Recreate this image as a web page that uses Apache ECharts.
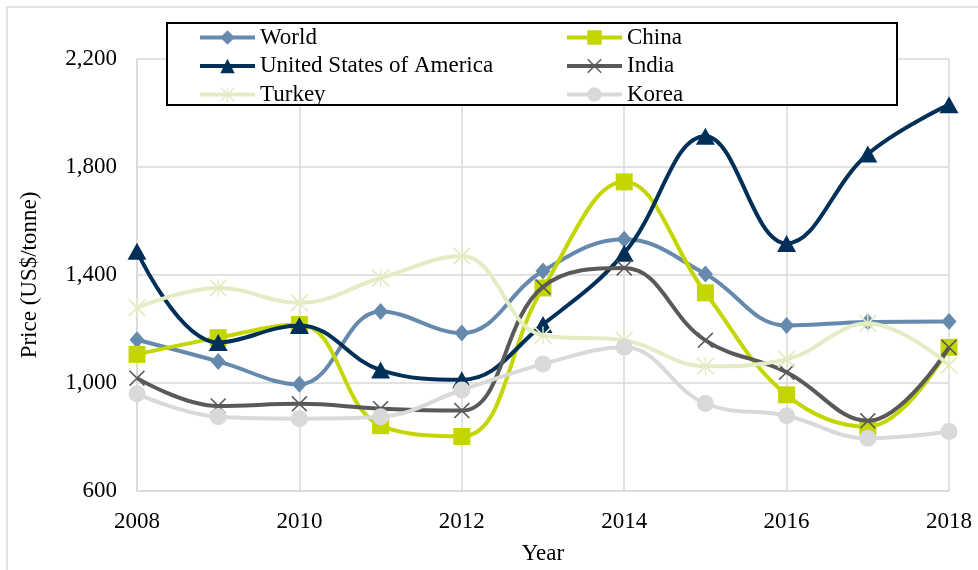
<!DOCTYPE html>
<html>
<head>
<meta charset="utf-8">
<script src="https://cdn.jsdelivr.net/npm/echarts@6/dist/echarts.min.js"></script>
<style>
  html, body { margin: 0; padding: 0; background: #fff; }
  #chart { width: 978px; height: 570px; }
</style>
</head>
<body>
<div id="chart"></div>
<script>
// Steel price by market, US$ per tonne
const years  = [2008, 2009, 2010, 2011, 2012, 2013, 2014, 2015, 2016, 2017, 2018];
const world  = [1160, 1080,  995, 1265, 1185, 1415, 1532, 1404, 1213, 1226, 1228];
const china  = [1106, 1168, 1217,  842,  802, 1352, 1745, 1334,  956,  838, 1132];
const usa    = [1488, 1150, 1213, 1048, 1012, 1217, 1481, 1914, 1517, 1848, 2031];
const india  = [1018,  915,  923,  905,  898, 1356, 1426, 1158, 1040,  860, 1132];
const turkey = [1279, 1352, 1297, 1389, 1470, 1176, 1158, 1062, 1088, 1220, 1066];
const korea  = [ 960,  875,  868,  875,  974, 1070, 1132,  924,  879,  795,  820];

const seriesNames = ['World', 'China', 'United States of America', 'India', 'Turkey', 'Korea'];
const seriesValues = [world, china, usa, india, turkey, korea];

const FONT = '"Liberation Serif", "Times New Roman", serif';

// marker glyphs for the cross and asterisk styles
const CROSS = 'path://M1.4,0 L10,8.6 L18.6,0 L20,1.4 L11.4,10 L20,18.6 L18.6,20 L10,11.4 L1.4,20 L0,18.6 L8.6,10 L0,1.4 Z';
const STAR = 'path://M1.4,0 L10,8.6 L18.6,0 L20,1.4 L11.4,10 L20,18.6 L18.6,20 L10,11.4 L1.4,20 L0,18.6 L8.6,10 L0,1.4 Z M9.2,0 L10.8,0 L10.8,20 L9.2,20 Z';

const styles = {
  'World':                    { color: '#6689AE', symbol: 'diamond',  size: [15, 17] },
  'China':                    { color: '#C4D600', symbol: 'rect',     size: 17 },
  'United States of America': { color: '#003057', symbol: 'triangle', size: [19, 17] },
  'India':                    { color: '#595959', symbol: CROSS,      size: 16 },
  'Turkey':                   { color: '#E3ECC4', symbol: STAR,       size: 18 },
  'Korea':                    { color: '#D9D9D9', symbol: 'circle',   size: 17 }
};

const series = seriesNames.map((name, i) => {
  const s = styles[name];
  return {
    name: name,
    type: 'line',
    smooth: 0.4,
    data: years.map((y, j) => [y, seriesValues[i][j]]),
    symbol: s.symbol,
    symbolSize: s.size,
    showSymbol: true,
    lineStyle: { color: s.color, width: 4 },
    itemStyle: { color: s.color },
    emphasis: { disabled: true },
    z: 2 + i
  };
});

const chart = echarts.init(document.getElementById('chart'), null, { renderer: 'canvas' });

const legendText = { fontFamily: FONT, fontSize: 23, color: '#000', lineHeight: 22 };
const legendCommon = {
  orient: 'vertical',
  top: 26,
  padding: 0,
  itemGap: 5.5,
  itemWidth: 55,
  itemHeight: 18,
  lineStyle: { width: 4 },
  textStyle: legendText,
  selectedMode: false,
  z: 20
};

chart.setOption({
  animation: false,
  backgroundColor: '#fff',
  textStyle: { fontFamily: FONT },
  grid: { left: 137, right: 29, top: 59, bottom: 75, containLabel: false },
  xAxis: {
    type: 'value',
    min: 2008,
    max: 2018,
    interval: 2,
    name: 'Year',
    nameLocation: 'middle',
    nameGap: 51,
    nameTextStyle: { fontFamily: FONT, fontSize: 23, color: '#000' },
    axisLine: { show: true, lineStyle: { color: '#D9D9D9', width: 1.5 } },
    axisTick: { show: false },
    axisLabel: { fontFamily: FONT, fontSize: 23, color: '#000', margin: 19, formatter: v => String(v) },
    splitLine: { show: true, lineStyle: { color: '#D9D9D9', width: 1.5 } }
  },
  yAxis: {
    type: 'value',
    min: 600,
    max: 2200,
    interval: 400,
    name: 'Price (US$/tonne)',
    nameLocation: 'middle',
    nameGap: 96,
    nameTextStyle: { fontFamily: FONT, fontSize: 23, color: '#000' },
    axisLine: { show: true, lineStyle: { color: '#D9D9D9', width: 1.5 } },
    axisTick: { show: false },
    axisLabel: {
      fontFamily: FONT, fontSize: 23, color: '#000', margin: 20,
      formatter: v => v.toLocaleString('en-US')
    },
    splitLine: { show: true, lineStyle: { color: '#D9D9D9', width: 1.5 } }
  },
  legend: [
    Object.assign({}, legendCommon, { left: 198, data: ['World', 'United States of America', 'Turkey'] }),
    Object.assign({}, legendCommon, { left: 565, data: ['China', 'India', 'Korea'] })
  ],
  graphic: [
    {
      type: 'rect',
      z: 0,
      silent: true,
      shape: { x: 7, y: 7, width: 1000, height: 600 },
      style: { fill: 'none', stroke: '#D9D9D9', lineWidth: 1.5 }
    },
    {
      type: 'rect',
      z: 15,
      silent: true,
      shape: { x: 167, y: 23, width: 730, height: 82 },
      style: { fill: '#fff', stroke: '#000', lineWidth: 2 }
    }
  ],
  series: series
});
</script>
</body>
</html>
